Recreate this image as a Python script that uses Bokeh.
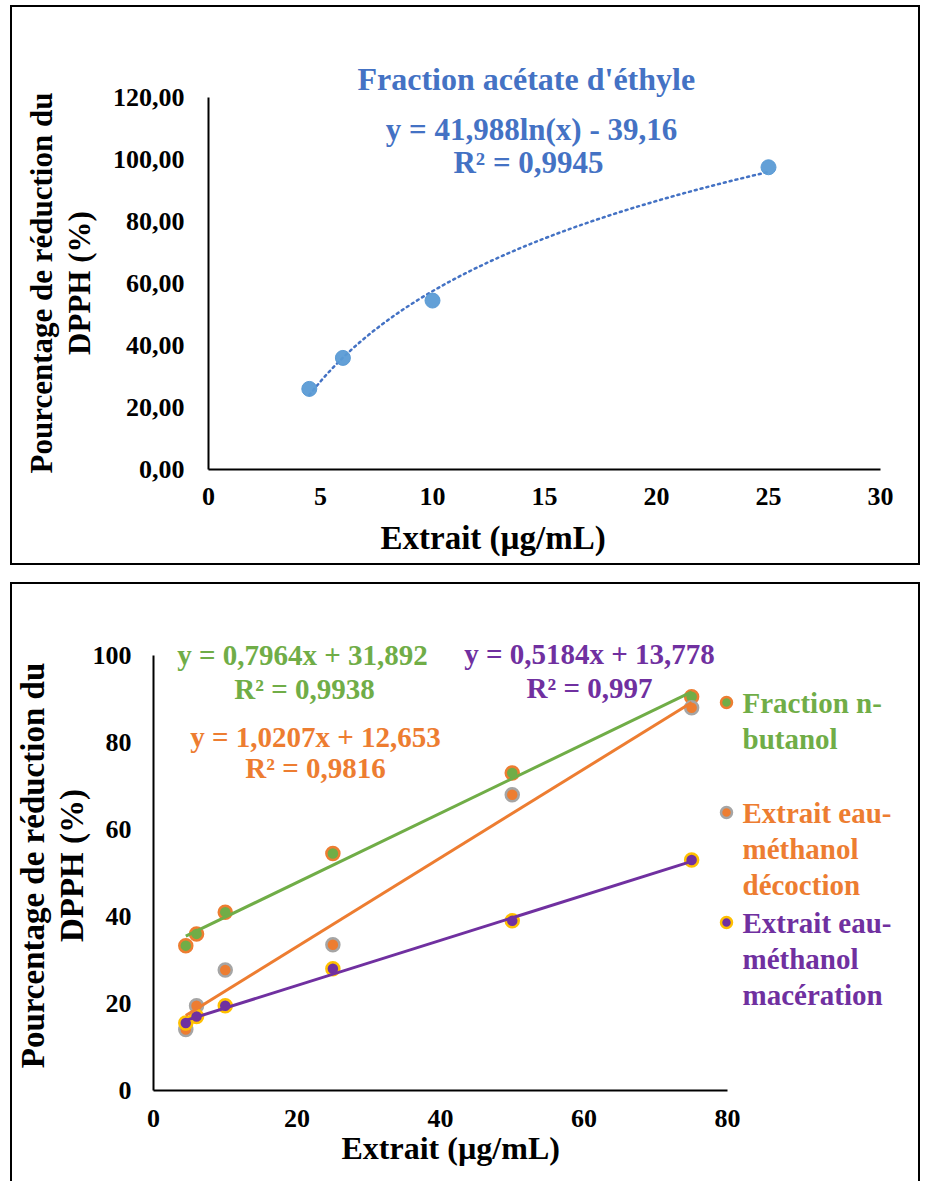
import numpy as np
from bokeh.plotting import figure
from bokeh.models import Range1d, FixedTicker, CustomJSTickFormatter, Label, Title
from bokeh.embed import file_html
from bokeh.resources import INLINE

FONT = "Liberation Serif"

# ---------------- data: top chart (fraction acétate d'éthyle) ----------------
ea_conc = [4.5, 6.0, 10.0, 25.0]
ea_reduction = [26.0, 36.0, 54.5, 97.5]
ea_fit_a = 41.988
ea_fit_b = -39.16
top_xticks = [0, 5, 10, 15, 20, 25, 30]
top_yticks = [0, 20, 40, 60, 80, 100, 120]

# ---------------- data: bottom chart ----------------
conc = [4.5, 6.0, 10.0, 25.0, 50.0, 75.0]
nbutanol = [33.3, 36.0, 41.0, 54.5, 73.0, 90.5]
decoction = [14.0, 19.5, 27.7, 33.5, 68.0, 88.0]
maceration = [15.5, 17.0, 19.5, 28.0, 39.0, 53.0]
fit_nbutanol = (0.7964, 31.892)
fit_decoction = (1.0207, 12.653)
fit_maceration = (0.5184, 13.778)
bottom_xticks = [0, 20, 40, 60, 80]
bottom_yticks = [0, 20, 40, 60, 80, 100]

BLUE_T = "#4472C4"
BLUE_M = "#5B9BD5"
GREEN = "#70AD47"
ORANGE = "#ED7D31"
PURPLE = "#7030A0"
GRAY = "#A5A5A5"
GOLD = "#FFC000"


def style_axes(p, xticks, yticks, xb, yb, ytitle_size, yfmt=None):
    for ax in (p.xaxis[0], p.yaxis[0]):
        ax.axis_line_color = "black"
        ax.axis_line_width = 2
        ax.major_tick_line_color = None
        ax.minor_tick_line_color = None
        ax.major_label_text_font = FONT
        ax.major_label_text_font_size = "26px"
        ax.major_label_text_font_style = "bold"
        ax.major_label_text_color = "black"
        ax.axis_label_text_font = FONT
        ax.axis_label_text_font_size = f"{ytitle_size}px"
        ax.axis_label_text_font_style = "bold"
        ax.axis_label_text_color = "black"
    p.xaxis[0].ticker = FixedTicker(ticks=xticks)
    p.yaxis[0].ticker = FixedTicker(ticks=yticks)
    p.xaxis[0].bounds = xb
    p.yaxis[0].bounds = yb
    p.xaxis[0].major_label_standoff = 12
    p.yaxis[0].major_label_standoff = 18
    if yfmt is not None:
        p.yaxis[0].formatter = yfmt
    p.xgrid.visible = False
    p.ygrid.visible = False
    p.outline_line_color = None
    p.background_fill_color = None
    p.border_fill_color = None


def side_title(text, size, align="center", offset=0, standoff=0, valign="bottom"):
    return Title(text=text, text_font=FONT, text_font_size=f"{size}px",
                 text_font_style="bold", text_color="black", align=align,
                 offset=offset, standoff=standoff, vertical_align=valign)


# ======================= TOP FIGURE =======================
W1, H1 = 910, 560
FL1, FB1, FT1 = 198, 464, 91      # frame left / bottom / top inside canvas
SX1, SY1 = 22.4, 3.1              # px per unit
p1 = figure(width=W1, height=H1, output_backend="svg", toolbar_location=None,
            x_range=Range1d(0, (W1 - FL1) / SX1), y_range=Range1d(0, (FB1 - FT1) / SY1),
            min_border_left=FL1, min_border_right=0, min_border_top=FT1,
            min_border_bottom=H1 - FB1)
style_axes(p1, top_xticks, top_yticks, (0, 30), (0, 120), 31,
           CustomJSTickFormatter(code="return tick.toFixed(2).replace('.', ',');"))
p1.title.text = "Fraction acétate d'éthyle"
p1.title.text_font = FONT
p1.title.text_font_size = "32px"
p1.title.text_font_style = "bold"
p1.title.text_color = BLUE_T
p1.title.align = "left"
p1.title.offset = 149
p1.title.standoff = 0

p1.yaxis[0].axis_label = "DPPH (%)"
p1.yaxis[0].axis_label_standoff = 13
p1.add_layout(side_title("Pourcentage de réduction du", 31, standoff=0), "left")
p1.add_layout(side_title("Extrait (µg/mL)", 33, align="left", offset=172, standoff=20), "below")


def L1(px, py, text, size, color):
    # page pixel position -> data coords of top chart
    return Label(x=(px - 208) / SX1, y=(469 - py) / SY1, text=text,
                 text_font=FONT, text_font_size=f"{size}px", text_font_style="bold",
                 text_color=color, text_align="center", text_baseline="middle")


xf = np.linspace(min(ea_conc), max(ea_conc), 120)
p1.line(xf, ea_fit_a * np.log(xf) + ea_fit_b, line_color=BLUE_T, line_width=2.5,
        line_dash="2 4", line_cap="round")
p1.scatter(ea_conc, ea_reduction, size=15, fill_color=BLUE_M, line_color=BLUE_M,
           fill_alpha=0.95)
p1.add_layout(L1(531, 129, "y = 41,988ln(x) - 39,16", 31, BLUE_T))
p1.add_layout(L1(528, 162, "R² = 0,9945", 31, BLUE_T))

p1.styles = {"box-shadow": "inset 0 0 0 2px #000"}
p1.margin = (5, 0, 0, 10)

# ======================= BOTTOM FIGURE =======================
W2, H2 = 910, 599
FL2, FB2, FT2 = 143, 508, 58
SX2, SY2 = 574 / 80, 4.35
p2 = figure(width=W2, height=H2, output_backend="svg", toolbar_location=None,
            title=None,
            x_range=Range1d(0, (W2 - FL2) / SX2), y_range=Range1d(0, (FB2 - FT2) / SY2),
            min_border_left=FL2, min_border_right=0, min_border_top=FT2,
            min_border_bottom=H2 - FB2)
style_axes(p2, bottom_xticks, bottom_yticks, (0, 80), (0, 100), 33)
p2.xaxis[0].major_label_standoff = 13
p2.yaxis[0].major_label_standoff = 16
p2.yaxis[0].axis_label = "DPPH (%)"
p2.yaxis[0].axis_label_standoff = 0
p2.add_layout(side_title("Pourcentage de réduction du", 33, standoff=0), "left")
p2.add_layout(side_title("Extrait (µg/mL)", 32, align="left", offset=188, standoff=0,
                         valign="top"), "below")


def px2(px, py):
    return (px - 153) / SX2, (1090 - py) / SY2


def L2(px, py, text, size, color, align="center"):
    x, y = px2(px, py)
    return Label(x=x, y=y, text=text, text_font=FONT, text_font_size=f"{size}px",
                 text_font_style="bold", text_color=color, text_align=align,
                 text_baseline="middle")


series = [
    (nbutanol, fit_nbutanol, GREEN, ORANGE),
    (decoction, fit_decoction, ORANGE, GRAY),
    (maceration, fit_maceration, PURPLE, GOLD),
]
for vals, fit, fill, edge in series:
    p2.scatter(conc, vals, size=13, fill_color=fill, line_color=edge, line_width=2.5)
xl = np.array([min(conc), max(conc)])
for vals, (a, b), fill, edge in series:
    p2.line(xl, a * xl + b, line_color=fill, line_width=3)

# equations
p2.add_layout(L2(302, 654, "y = 0,7964x + 31,892", 29, GREEN))
p2.add_layout(L2(304, 688, "R² = 0,9938", 29, GREEN))
p2.add_layout(L2(315, 736, "y = 1,0207x + 12,653", 29, ORANGE))
p2.add_layout(L2(315, 767, "R² = 0,9816", 29, ORANGE))
p2.add_layout(L2(589, 653, "y = 0,5184x + 13,778", 29, PURPLE))
p2.add_layout(L2(589, 687, "R² = 0,997", 29, PURPLE))

# legend (custom, to allow coloured multi-line labels)
legend_items = [
    ("Fraction n-\nbutanol", GREEN, ORANGE, 702),
    ("Extrait eau-\nméthanol\ndécoction", ORANGE, GRAY, 812),
    ("Extrait eau-\nméthanol\nmacération", PURPLE, GOLD, 922),
]
for text, fill, edge, ytop in legend_items:
    mx, my = px2(726, ytop)
    p2.scatter([mx], [my], size=11, fill_color=fill, line_color=edge, line_width=2.5)
    for i, line in enumerate(text.split("\n")):
        p2.add_layout(L2(742, ytop + 36 * i, line, 29, fill, align="left"))

p2.styles = {"box-shadow": "inset 2px 0 0 0 #000, inset -2px 0 0 0 #000, inset 0 2px 0 0 #000"}
p2.margin = (17, 0, 0, 10)

open("out.html", "w").write(file_html([p1, p2], INLINE))
